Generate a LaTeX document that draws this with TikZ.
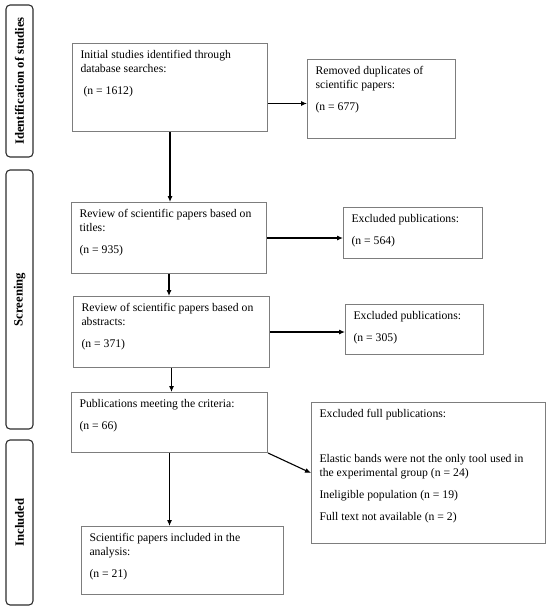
\documentclass[tikz,border=0pt]{standalone}
\usepackage{fontspec}
\setmainfont{Liberation Serif}
\usetikzlibrary{arrows.meta}
\definecolor{boxgray}{RGB}{125,125,125}
\definecolor{sidegray}{RGB}{45,45,45}
\newcommand{\bt}[3]{\parbox[c][\dimexpr #2pt-14pt\relax][t]{\dimexpr #1pt-16pt\relax}{\setlength{\parskip}{8.5pt}\raggedright #3}}
\begin{document}
\begin{tikzpicture}[x=1pt,y=-1pt,
  every node/.style={font=\fontsize{11.7pt}{13.5pt}\selectfont},
  box/.style={draw=boxgray, line width=1pt, inner xsep=8pt, inner ysep=7pt, anchor=north west},
  side/.style={draw=sidegray, line width=1.1pt, rounded corners=4pt, minimum width=27pt, inner sep=0pt, font=\fontsize{12.7pt}{14pt}\selectfont\bfseries},
  arr/.style={-{Latex[length=6pt,width=5pt]}, line width=1.1pt}]
\useasboundingbox (0,0) rectangle (550,610);

% side labels
\node[side, minimum height=152pt] (s1) at (19.5,81) {\rotatebox{90}{Identification of studies}};
\node[side, minimum height=259pt] (s2) at (19.5,299.5) {\rotatebox{90}{Screening}};
\node[side, minimum height=165pt] (s3) at (19.5,522.5) {\rotatebox{90}{Included}};

% boxes
\node[box] (b1) at (72,43) {\bt{195}{88}{\mbox{Initial studies identified through}\\database searches:\par\hspace{3pt}(n = 1612)}};
\node[box] (b2) at (307,59) {\bt{148}{79}{\mbox{Removed duplicates of}\\scientific papers:\par(n = 677)}};
\node[box] (b3) at (71,202) {\bt{195}{71}{\mbox{Review of scientific papers based on}\\titles:\par(n = 935)}};
\node[box] (b4) at (73,296) {\bt{196}{71}{\mbox{Review of scientific papers based on}\\abstracts:\par(n = 371)}};
\node[box] (e1) at (343,207) {\bt{139}{51}{\mbox{Excluded publications:}\par(n = 564)}};
\node[box] (e2) at (345,304) {\bt{138}{50}{\mbox{Excluded publications:}\par(n = 305)}};
\node[box] (b5) at (71,392) {\bt{196}{60}{\mbox{Publications meeting the criteria:}\par(n = 66)}};
\node[box] (ef) at (311,402) {\bt{234}{141}{Excluded full publications:\par\vspace{23pt}\mbox{Elastic bands were not the only tool used in}\\the experimental group (n = 24)\par Ineligible population (n = 19)\par Full text not available (n = 2)}};
\node[box] (b6) at (81,526) {\bt{202}{68}{\mbox{Scientific papers included in the}\\analysis:\par(n = 21)}};

% connectors
\coordinate (a2) at ([yshift=-4.5pt]b2.west);
\draw[arr] (b1.east |- a2) -- (a2);
\draw[arr] (b1.south) -- (b1.south |- b3.north);
\draw[arr] (b3.east) -- (b3.east -| e1.west);
\draw[arr] (b3.south) -- (b3.south |- b4.north);
\draw[arr] (b4.east) -- (b4.east -| e2.west);
\draw[arr] (b4.south) -- (b4.south |- b5.north);
\draw[arr] (b5.south) -- (b5.south |- b6.north);
\draw[arr] (b5.south east) -- (ef.west);
\end{tikzpicture}
\end{document}
